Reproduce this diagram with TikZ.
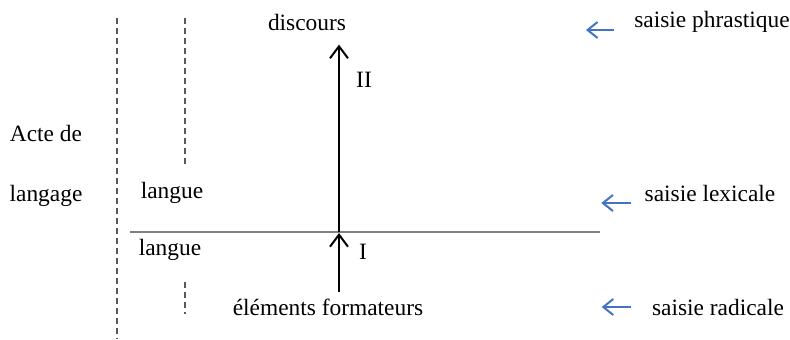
\documentclass[tikz,border=0pt]{standalone}
\usepackage{fontspec}
\setmainfont{Liberation Serif}
\usepackage{xcolor}
\usetikzlibrary{arrows.meta, positioning, calc}
\definecolor{saisieblue}{RGB}{68,114,196}
\tikzset{
  lbl/.style={
    font=\fontsize{11.7}{14}\selectfont, inner sep=3pt
  },
  guidedash/.style={
    line width=0.75pt, color=gray!70!black, dash pattern=on 3pt off 2pt
  },
  axisline/.style={
    line width=1pt, color=gray
  },
  buildarrow/.style={
    -{Straight Barb[length=6pt, width=9pt, line width=1pt]}, line width=1pt
  },
  saisiearrow/.style={
    -{Straight Barb[length=5pt, width=8pt, line width=1pt]}, line width=1pt, color=saisieblue
  },
}

\begin{document}
\begin{tikzpicture}[x=0.5pt, y=-0.5pt]
  \useasboundingbox (0,0) rectangle (790,339);

  % dashed guides
  \coordinate (outerT) at (117,18);
  \coordinate (outerB) at (117,339);
  \coordinate (innerT) at (185,18);
  \coordinate (innerM) at (185,166);
  \coordinate (innerN) at (185,282);
  \coordinate (innerB) at (185,314);
  \draw[guidedash] (outerT) -- (outerB);
  \draw[guidedash] (innerT) -- (innerM);
  \draw[guidedash] (innerN) -- (innerB);

  % horizontal line
  \coordinate (lineL) at (130,232);
  \coordinate (lineR) at (600,232);
  \coordinate (cross) at (339,232);
  \draw[axisline] (lineL) -- (lineR);

  \node[lbl] (discours) at (307,22) {discours};
  \node[lbl] (elements) at (328,307) {éléments formateurs};
  \node[lbl] (langueA) at (172,193) {langue};
  \node[lbl] (langueB) at (170,250) {langue};
  \node[lbl] (acte) at (46,133) {Acte de};
  \node[lbl] (langage) at (46,196) {langage};

  \draw[buildarrow, shorten >=4pt] (cross) -- (discours.south -| cross);
  \draw[buildarrow] (elements.north -| cross) -- ([yshift=-0.5pt]cross);
  \node[lbl] (phaseII) at (364,80) {II};
  \node[lbl] (phaseI) at (363,252) {I};

  % saisies
  \node[lbl] (phr) at (712,22) {saisie phrastique};
  \node[lbl] (lex) at (710,193) {saisie lexicale};
  \node[lbl] (rad) at (718,307) {saisie radicale};
  \draw[saisiearrow] ([xshift=-7pt, yshift=-4pt]phr.west) -- ++(-14pt,0);
  \draw[saisiearrow] ([xshift=-3.5pt, yshift=-5pt]lex.west) -- ++(-15pt,0);
  \draw[saisiearrow] ([xshift=-7.5pt, yshift=0pt]rad.west) -- ++(-14.5pt,0);
\end{tikzpicture}
\end{document}
